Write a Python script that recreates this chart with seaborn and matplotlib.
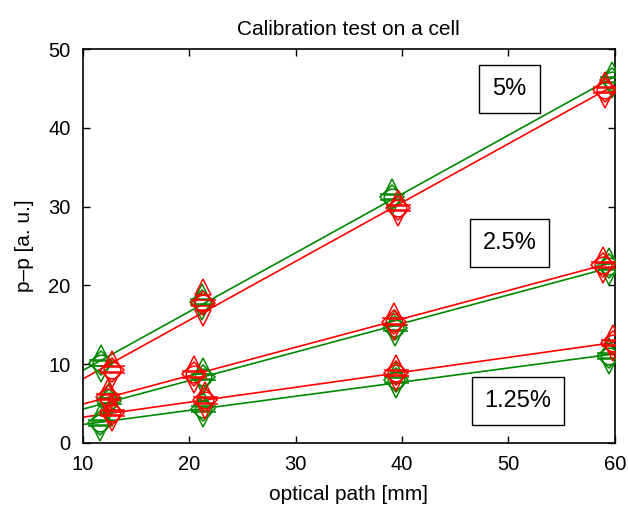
import numpy as np
import pandas as pd
import matplotlib
matplotlib.use("Agg")
import matplotlib.pyplot as plt
import seaborn as sns

# concentrations shown in the boxes
LABELS = ["5%", "2.5%", "1.25%"]
LABEL_X = [50.1, 50.1, 50.9]
LABEL_Y = [44.9, 25.4, 5.3]

# measured points (x = optical path mm, y = p-p a.u.), two runs per concentration
GREEN_X = {"5%": [11.7, 21.2, 39.1, 59.7],
           "2.5%": [12.5, 21.3, 39.3, 59.5],
           "1.25%": [11.6, 21.3, 39.4, 59.5]}
GREEN_Y = {"5%": [10.1, 17.9, 31.2, 46.1],
           "2.5%": [5.3, 8.4, 14.6, 22.4],
           "1.25%": [2.5, 4.3, 8.0, 11.0]}
GREEN_ERR = {"5%": [1.3, 1.3, 1.3, 1.3],
             "2.5%": [1.3, 1.3, 1.3, 1.3],
             "1.25%": [1.3, 1.3, 1.3, 1.3]}

RED_X = {"5%": [12.7, 21.3, 39.6, 59.1],
         "2.5%": [12.4, 20.4, 39.2, 58.9],
         "1.25%": [12.7, 21.5, 39.4, 59.8]}
RED_Y = {"5%": [9.3, 17.8, 29.8, 44.8],
         "2.5%": [5.8, 8.7, 15.4, 22.6],
         "1.25%": [3.8, 5.4, 8.9, 12.7]}
RED_ERR = {"5%": [1.3, 2.0, 1.3, 1.3],
           "2.5%": [1.3, 1.3, 1.3, 1.3],
           "1.25%": [1.3, 1.3, 1.3, 1.3]}

GREEN = "#008800"
RED = "#ff0000"


def draw_points(ax, x, y, err, color):
    x = np.array(x)
    y = np.array(y)
    e = np.array(err)
    kw = dict(linestyle="none", markerfacecolor="none", markeredgecolor=color,
              markeredgewidth=1.1, zorder=3)
    ax.plot(x, y, marker="o", markersize=12, **kw)
    ax.plot(x, y, marker="D", markersize=12, **kw)
    ax.plot(x, y + e, marker="^", markersize=12, **kw)
    ax.plot(x, y - e, marker="v", markersize=12, **kw)
    ax.plot(x, y + 0.4, marker="_", markersize=18, **kw)
    ax.plot(x, y - 0.4, marker="_", markersize=18, **kw)


def main():
    sns.set_style("ticks")
    plt.rcParams["font.family"] = ["Liberation Sans", "DejaVu Sans"]
    plt.rcParams["xtick.direction"] = "in"
    plt.rcParams["ytick.direction"] = "in"
    plt.rcParams["text.color"] = "black"
    plt.rcParams["axes.labelcolor"] = "black"
    plt.rcParams["xtick.color"] = "black"
    plt.rcParams["ytick.color"] = "black"
    plt.rcParams["axes.edgecolor"] = "black"

    fig = plt.figure(figsize=(6.28, 5.12), dpi=100)
    ax = fig.add_axes([0.132, 0.135, 0.847, 0.769])
    ax.set_xlim(10, 60)
    ax.set_ylim(0, 50)

    for lab in LABELS:
        for xs, ys, es, col in [(GREEN_X, GREEN_Y, GREEN_ERR, GREEN),
                                (RED_X, RED_Y, RED_ERR, RED)]:
            df = pd.DataFrame({"x": xs[lab], "y": ys[lab]})
            sns.regplot(data=df, x="x", y="y", ax=ax, scatter=False, ci=None,
                        truncate=False, color=col, line_kws=dict(lw=1.2))
            draw_points(ax, xs[lab], ys[lab], es[lab], col)

    ax.set_xlim(10, 60)
    ax.set_ylim(0, 50)
    ax.set_xticks([10, 20, 30, 40, 50, 60])
    ax.set_yticks([0, 10, 20, 30, 40, 50])

    for lab, tx, ty in zip(LABELS, LABEL_X, LABEL_Y):
        ax.text(tx, ty, lab, fontsize=17, ha="center", va="center", zorder=4,
                bbox=dict(boxstyle="square,pad=0.55", fc="white", ec="black", lw=1))

    ax.set_title("Calibration test on a cell", fontsize=15, pad=10)
    ax.set_xlabel("optical path [mm]", fontsize=15, labelpad=8)
    ax.set_ylabel("p\u2013p [a. u.]", fontsize=15, labelpad=10)
    ax.tick_params(labelsize=14.5, top=True, right=True, length=5, width=1, pad=9)
    for sp in ax.spines.values():
        sp.set_linewidth(1.2)
        sp.set_visible(True)

    fig.savefig("out.png", dpi=100)


if __name__ == "__main__":
    main()
